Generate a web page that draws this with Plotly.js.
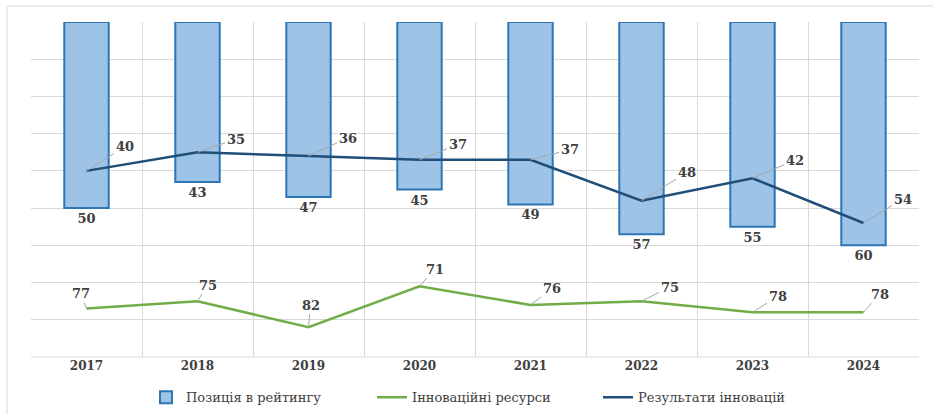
<!DOCTYPE html>
<html>
<head>
<meta charset="utf-8">
<script src="https://cdn.plot.ly/plotly-3.0.1.min.js"></script>
<style>html,body{margin:0;padding:0;background:#fff;}#chart{width:933px;height:414px;}</style>
</head>
<body>
<div id="chart"></div>
<script>
const years = ['2017','2018','2019','2020','2021','2022','2023','2024'];
const ratingPosition = [50, 43, 47, 45, 49, 57, 55, 60];
const innovationResources = [77, 75, 82, 71, 76, 75, 78, 78];
const innovationResults = [40, 35, 36, 37, 37, 48, 42, 54];
const seriesNames = ['Позиція в рейтингу', 'Інноваційні ресурси', 'Результати інновацій'];

// label offsets (pixels) for line labels
const resultsOffsets = [[38,-24],[38,-13],[39,-18],[38,-15],[39,-10],[45,-28],[42,-18],[39,-24]];
const resourcesOffsets = [[-6,-15],[10,-16],[2,-22],[15,-17],[21,-16],[28,-14],[25,-16],[16,-18]];

const fontFam = '"DejaVu Serif", "Liberation Serif", serif';
const txtColor = '#404040';

const traces = [
  {
    type: 'bar', x: years, y: ratingPosition, name: seriesNames[0],
    marker: {color: '#9dc3e6', line: {color: '#2e75b6', width: 2}},
    text: ratingPosition.map(String), textposition: 'outside',
    textfont: {family: fontFam, size: 13, color: txtColor, weight: 'bold'},
    cliponaxis: false
  },
  {
    type: 'scatter', mode: 'lines', x: years, y: innovationResources, name: seriesNames[1],
    line: {color: '#70ad47', width: 2.5}
  },
  {
    type: 'scatter', mode: 'lines', x: years, y: innovationResults, name: seriesNames[2],
    line: {color: '#1f4e79', width: 2.5}
  }
];

function makeAnn(vals, offs) {
  return vals.map((v, i) => ({
    x: i, y: v, xref: 'x', yref: 'y', text: '<b>' + v + '</b>',
    showarrow: true, arrowhead: 0, arrowwidth: 1, arrowcolor: '#a6a6a6',
    ax: offs[i][0], ay: offs[i][1], standoff: 0,
    font: {family: fontFam, size: 13, color: txtColor}
  }));
}

const annotations = makeAnn(innovationResults, resultsOffsets).concat(makeAnn(innovationResources, resourcesOffsets));

const layout = {
  width: 933, height: 414,
  margin: {l: 31, r: 14, t: 22, b: 57, autoexpand: false},
  paper_bgcolor: '#fff', plot_bgcolor: '#fff',
  bargap: 0.6,
  showlegend: true,
  legend: {
    orientation: 'h', x: 0.1295, xanchor: 'left', y: -0.12, yanchor: 'middle',
    font: {family: fontFam, size: 13, color: txtColor},
    traceorder: 'normal', itemwidth: 30, entrywidth: 181, entrywidthmode: 'pixels'
  },
  xaxis: {
    type: 'category', categoryarray: years, range: [-0.5, 7.5], autorange: false,
    tickson: 'boundaries', showgrid: true, gridcolor: '#d9d9d9', gridwidth: 1,
    ticks: '', showline: false, zeroline: false, tickangle: 0,
    tickfont: {family: fontFam, size: 12, color: txtColor, weight: 'bold'}
  },
  yaxis: {
    range: [90, 0], autorange: false, dtick: 10, showgrid: true, gridcolor: '#d9d9d9', gridwidth: 1,
    showticklabels: false, ticks: '', zeroline: false, showline: false
  },
  annotations: annotations,
  shapes: [
    {type: 'rect', xref: 'paper', yref: 'paper', x0: -0.027, x1: 1.03, y0: -0.2, y1: 1.048,
     line: {color: '#d9d9d9', width: 1}, fillcolor: 'rgba(0,0,0,0)', layer: 'below'},
    {type: 'line', xref: 'paper', yref: 'paper', x0: 0, x1: 1, y0: 0, y1: 0, line: {color: '#d9d9d9', width: 1}}
  ]
};

Plotly.newPlot('chart', traces, layout, {displayModeBar: false, staticPlot: true});
</script>
</body>
</html>
